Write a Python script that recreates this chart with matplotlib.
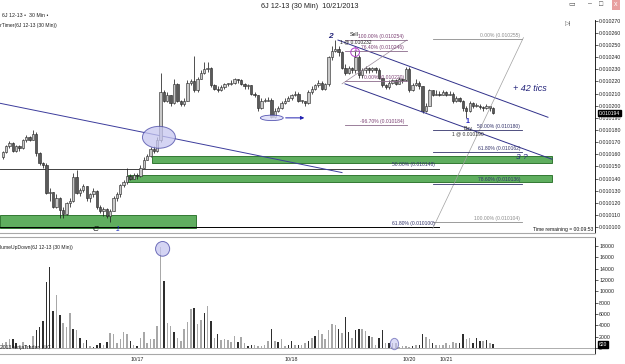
import matplotlib
matplotlib.use("Agg")
import matplotlib.pyplot as plt
import matplotlib.transforms as mtransforms
from matplotlib.patches import Rectangle, Ellipse
import numpy as np

plt.rcParams['font.family'] = ['Liberation Sans', 'DejaVu Sans']

# ---------------- data (prices in units of 0.000001) ----------------
first_open = 10158
close = [10162, 10167, 10169, 10163, 10167, 10165, 10172, 10174, 10172, 10177,
         10161, 10153, 10151, 10128, 10129, 10117, 10124, 10114, 10111, 10120,
         10122, 10141, 10128, 10131, 10134, 10124, 10127, 10130, 10117, 10113,
         10115, 10109, 10113, 10124, 10127, 10135, 10137, 10142, 10140, 10143,
         10142, 10149, 10155, 10159, 10164, 10163, 10172, 10211, 10204, 10209,
         10202, 10218, 10204, 10201, 10204, 10219, 10220, 10213, 10222, 10227,
         10230, 10231, 10217, 10214, 10213, 10215, 10218, 10218, 10219, 10222,
         10221, 10218, 10216, 10217, 10210, 10209, 10198, 10204, 10204, 10205,
         10191, 10196, 10198, 10202, 10204, 10206, 10209, 10210, 10204, 10204,
         10202, 10211, 10214, 10217, 10219, 10214, 10218, 10240, 10245, 10247,
         10244, 10231, 10227, 10231, 10229, 10240, 10225, 10229, 10231, 10229,
         10231, 10229, 10223, 10217, 10215, 10219, 10221, 10218, 10222, 10221,
         10230, 10213, 10217, 10219, 10216, 10196, 10200, 10213, 10209, 10210,
         10209, 10211, 10209, 10210, 10204, 10206, 10204, 10198, 10196, 10202,
         10200, 10200, 10199, 10198, 10200, 10198, 10194]
high = [10163, 10168, 10171, 10170, 10168, 10168, 10173, 10176, 10175, 10180,
        10178, 10162, 10154, 10153, 10132, 10129, 10127, 10125, 10117, 10121,
        10124, 10145, 10147, 10132, 10136, 10134, 10128, 10132, 10131, 10118,
        10117, 10116, 10115, 10126, 10129, 10136, 10139, 10149, 10144, 10145,
        10145, 10151, 10158, 10160, 10166, 10167, 10174, 10227, 10213, 10211,
        10209, 10222, 10219, 10205, 10206, 10221, 10222, 10241, 10224, 10229,
        10236, 10236, 10232, 10218, 10216, 10217, 10219, 10219, 10221, 10223,
        10222, 10222, 10219, 10218, 10217, 10211, 10209, 10206, 10206, 10207,
        10206, 10198, 10200, 10204, 10206, 10208, 10210, 10212, 10211, 10205,
        10204, 10213, 10216, 10218, 10221, 10220, 10219, 10241, 10249, 10254,
        10249, 10245, 10234, 10233, 10232, 10245, 10242, 10231, 10233, 10232,
        10232, 10232, 10231, 10223, 10218, 10221, 10222, 10222, 10224, 10223,
        10232, 10232, 10219, 10222, 10220, 10216, 10202, 10214, 10213, 10213,
        10212, 10213, 10212, 10212, 10211, 10208, 10207, 10205, 10200, 10204,
        10203, 10202, 10201, 10200, 10201, 10200, 10199]
low = [10156, 10161, 10165, 10162, 10162, 10163, 10164, 10170, 10171, 10172,
       10159, 10151, 10149, 10127, 10122, 10116, 10116, 10108, 10108, 10110,
       10117, 10121, 10127, 10126, 10129, 10122, 10121, 10125, 10115, 10112,
       10109, 10108, 10104, 10113, 10122, 10125, 10133, 10136, 10139, 10140,
       10140, 10141, 10149, 10155, 10158, 10161, 10162, 10170, 10203, 10203,
       10200, 10201, 10203, 10200, 10200, 10204, 10217, 10211, 10211, 10222,
       10226, 10228, 10215, 10213, 10211, 10212, 10214, 10216, 10217, 10218,
       10219, 10217, 10214, 10214, 10209, 10207, 10196, 10197, 10203, 10204,
       10190, 10190, 10195, 10197, 10201, 10204, 10205, 10208, 10203, 10202,
       10200, 10201, 10210, 10213, 10215, 10213, 10213, 10216, 10238, 10244,
       10241, 10230, 10225, 10226, 10227, 10227, 10223, 10223, 10227, 10227,
       10228, 10227, 10222, 10215, 10214, 10214, 10218, 10217, 10218, 10219,
       10220, 10211, 10212, 10216, 10214, 10194, 10195, 10200, 10208, 10209,
       10208, 10209, 10208, 10209, 10202, 10203, 10203, 10196, 10190, 10195,
       10198, 10199, 10197, 10196, 10197, 10196, 10193]
volume = [900, 1100, 1600, 1500, 800, 600, 1000, 600, 600, 2100,
          3100, 3700, 4700, 11600, 14300, 6500, 9300, 5800, 4400, 3700,
          6100, 3400, 3200, 1800, 900, 1400, 400, 200, 500, 800,
          500, 1100, 2600, 2400, 800, 1500, 2800, 2500, 1200, 600,
          300, 1800, 2900, 900, 1500, 1600, 3800, 17800, 11800, 4400,
          3800, 2800, 1800, 1200, 3400, 4500, 6800, 7100, 4300, 5000,
          6200, 7400, 4700, 1800, 2400, 1400, 1500, 1400, 1100, 2200,
          1100, 1900, 900, 400, 500, 600, 300, 300, 500, 1200,
          3400, 1200, 1000, 1500, 300, 600, 1200, 600, 600, 600,
          900, 1200, 1800, 2100, 3100, 2400, 1600, 3200, 4300, 4100,
          3400, 2700, 5500, 2800, 1800, 3200, 3400, 3400, 3000, 2200,
          1900, 600, 1800, 3100, 900, 800, 900, 900, 200, 300,
          400, 200, 300, 500, 600, 2500, 1900, 1500, 900, 600,
          500, 600, 800, 600, 1100, 800, 800, 2500, 1600, 1800,
          800, 1800, 1200, 1200, 1400, 900, 620]
vol_dir = ("uuudduuudu" "dddddduduu" "ududududdd" "uduuuuuudu" "duuuuuuudu"
           "uduuuuuduu" "dududuuuuu" "duudduuuuu" "duduuddudu" "ududuuuuuu"
           "duddudduud" "uudduduuuu" "uududduudu" "uuuuuudduu" "dddudud")
date_labels = ["10/17", "10/18", "10/20", "10/21"]
date_bars = [40, 86, 121, 132]
price_ticks = list(range(10100, 10271, 10))
vol_ticks = list(range(0, 18001, 2000))
last_price = 10194
last_volume = 620

# demand zones: (bar start, bar end, bottom, top)
zones = [(44.5, 163.5, 10153, 10158.5),
         (37.3, 163.5, 10137, 10143),
         (-0.8, 57.5, 10099.5, 10110)]
# right fibonacci set
fib_r_levels = [("0.00% (0.010255)", 10255, '#8c8c8c'),
                ("50.00% (0.010180)", 10180, '#33336b'),
                ("61.80% (0.010162)", 10162, '#33336b'),
                ("78.60% (0.010136)", 10136, '#33336b'),
                ("100.00% (0.010104)", 10104, '#8c8c8c')]
fib_r_span = (128, 155)
# left fibonacci set
fib_l_levels = [("100.00% (0.010254)", 10254),
                ("76.40% (0.010246)", 10245),
                ("0.00% (0.010220)", 10220),
                ("-96.70% (0.010184)", 10184)]
fib_l_span = (102, 120.3)
# long horizontal fib levels
fib_h_levels = [("50.00% (0.010148)", 10148, '#404040'),
                ("61.80% (0.010100)", 10100, '#000000')]
fib_h_span = (-0.8, 130)

S = 1e-6
W, H = 625, 364

fig = plt.figure(figsize=(6.25, 3.64), dpi=100)
fig.patch.set_facecolor('white')
ax = fig.add_axes([0, 1 - 233 / H, 595 / W, (233 - 20) / H])
axv = fig.add_axes([0, 1 - 354 / H, 595 / W, (354 - 237) / H], sharex=ax)

c = np.array(close) * S
o = np.r_[first_open, close[:-1]] * S
h = np.maximum(np.array(high) * S, np.maximum(o, c))
l = np.minimum(np.array(low) * S, np.minimum(o, c))
x = np.arange(len(c))
up = c >= o

# zones
for x0, x1, b, t in zones:
    ax.add_patch(Rectangle((x0, b * S), x1 - x0, (t - b) * S, facecolor='#5fae5f',
                           edgecolor='#1f6a1f', lw=0.6, zorder=2))

# long trend line
ax.plot([-0.8, 101], [10202 * S, 10145 * S], color='#3c3c9c', lw=0.7, zorder=2.5)

# horizontal long fib levels
for txt, p, col in fib_h_levels:
    ax.plot(fib_h_span, [p * S, p * S], color=col, lw=0.7, zorder=2.2)
    ax.text(fib_h_span[1] - 1.3, p * S + 1.2 * S, txt, fontsize=3.6, color='#33336b',
            ha='right', va='bottom', zorder=6)

# candles
ax.vlines(x, l, h, color='#202020', lw=0.55, zorder=3)
ax.bar(x, np.maximum(np.abs(c - o), 0.4 * S), bottom=np.minimum(o, c), width=0.7,
       color=np.where(up, '#c9c9c9', '#5a5a5a'), edgecolor='#202020', linewidth=0.4, zorder=4)

# big ellipse
ax.add_patch(Ellipse((46.5, 10174 * S), 9.8, 18 * S, facecolor='#c6c6f0', alpha=0.75,
                     edgecolor='#4545a5', lw=0.7, zorder=5))
# small ellipse + arrow
ax.add_patch(Ellipse((80.1, 10190 * S), 6.8, 4.5 * S, facecolor='#dcdcf8', alpha=0.8,
                     edgecolor='#3030a0', lw=0.6, zorder=5))
ax.annotate('', xy=(90.6, 10190 * S), xytext=(83.4, 10190 * S),
            arrowprops=dict(arrowstyle='-|>', color='#2020b0', lw=0.7, mutation_scale=5), zorder=6)

# channel
ax.plot([99.8, 162.3], [10254 * S, 10190.5 * S], color='#30308a', lw=0.7, zorder=5)
ax.plot([101.9, 163.5], [10218 * S, 10156 * S], color='#30308a', lw=0.7, zorder=5)

# left fib
ax.plot([101, fib_l_span[1]], [10218 * S, 10254 * S], color='#9a8a9a', lw=0.5, zorder=5)
for txt, p in fib_l_levels:
    ax.plot(fib_l_span, [p * S, p * S], color='#8a6a8a', lw=0.6, zorder=5)
    ax.text(fib_l_span[1] - 0.8, p * S + 0.9 * S, txt, fontsize=3.6, color='#7b3f73',
            ha='right', va='bottom', zorder=6)
ax.text(104.5, 10256.5 * S, "Sell", fontsize=3.8, color='#222222', ha='center', va='bottom', zorder=7)
ax.text(105, 10250.5 * S, "1 @ 0.010232", fontsize=3.6, color='#222222', ha='center', va='bottom', zorder=7)
ax.add_patch(Ellipse((104.9, 10244 * S), 2.6, 7 * S, facecolor='none', edgecolor='#b040c8', lw=0.7, zorder=7))
ax.text(104.9, 10246 * S, "1", fontsize=4.5, color='#b040c8', ha='center', va='center', zorder=7, weight='bold')

# right fib
ax.plot([fib_r_span[0], fib_r_span[1]], [10099 * S, 10256 * S], color='#a0a0a0', lw=0.5, zorder=5)
for txt, p, col in fib_r_levels:
    ax.plot([fib_r_span[0], fib_r_span[1] - 0.5], [p * S, p * S], color=col, lw=0.6, zorder=5)
    ax.text(fib_r_span[1] - 1.0, p * S + 0.9 * S, txt, fontsize=3.6, color=col,
            ha='right', va='bottom', zorder=6)

# annotations
ax.text(97.6, 10257 * S, "2", fontsize=6, color='#23237a', style='italic', weight='bold',
        ha='center', va='center', zorder=7)
ax.text(157, 10214 * S, "+ 42 tics", fontsize=6.5, color='#23237a', style='italic',
        ha='center', va='center', zorder=7)
ax.text(138.3, 10187 * S, "1", fontsize=5, color='#2020c0', weight='bold', ha='center', va='center', zorder=7)
ax.text(138.5, 10181.5 * S, "Buy", fontsize=3.8, color='#333333', ha='center', va='center', zorder=7)
ax.text(138.5, 10176.5 * S, "1 @ 0.010190", fontsize=3.6, color='#333333', ha='center', va='center', zorder=7)
ax.text(154.5, 10157 * S, "3 ?", fontsize=6, color='#23237a', style='italic', ha='center', va='center', zorder=7)
ax.text(27.5, 10098.5 * S, "C", fontsize=6, color='#111111', style='italic', ha='center', va='center', zorder=7)
ax.text(34.3, 10098.5 * S, "1", fontsize=5, color='#2030c0', style='italic', ha='center', va='center', zorder=7)

ax.text(0.997, 0.006, "Time remaining = 00:09:53", transform=ax.transAxes, fontsize=3.6,
        ha='right', va='bottom', color='#111111')
ax.text(0.0, 0.985, "rTimer(6J 12-13 (30 Min))", transform=ax.transAxes, fontsize=3.6,
        ha='left', va='top', color='#222222')

# price axis
ax.set_xlim(-0.8, 176.3)
ax.set_ylim(10095.3 * S, 10270.5 * S)
ax.yaxis.tick_right()
ax.set_yticks([p * S for p in price_ticks])
ax.set_yticklabels([f"{p * S:.6f}" for p in price_ticks])
ax.tick_params(axis='y', labelsize=3.8, length=2, width=0.5, pad=1, colors='#222222')
ax.tick_params(axis='x', bottom=False, labelbottom=False)
for s in ('top', 'left'):
    ax.spines[s].set_visible(False)
ax.spines['bottom'].set_color('#a8a8a8')
ax.spines['bottom'].set_linewidth(0.8)
ax.spines['right'].set_linewidth(0.6)
tr = mtransforms.blended_transform_factory(ax.transAxes, ax.transData)
ax.text(1.006, last_price * S, f"{last_price * S:.6f}", transform=tr, fontsize=3.6, color='white',
        ha='left', va='center', bbox=dict(boxstyle='square,pad=0.15', fc='black', ec='black'), zorder=10,
        clip_on=False)

# volume
vcol = ['#a8a8a8' if d == 'u' else '#2e2e2e' for d in vol_dir]
axv.bar(x, volume, width=0.45, color=vcol, zorder=3)
axv.axhline(0, color='#a0a0a0', lw=0.6, zorder=2)
axv.add_patch(Ellipse((47.6, 17500), 4.2, 2600, facecolor='#c6c6f0', alpha=0.75,
                      edgecolor='#4545a5', lw=0.7, zorder=5))
axv.add_patch(Ellipse((116.6, 700), 2.5, 2000, facecolor='#c6c6f0', alpha=0.6,
                      edgecolor='#4545a5', lw=0.7, zorder=5))
axv.set_ylim(-1060, 19590)
axv.yaxis.tick_right()
axv.set_yticks(vol_ticks)
axv.set_yticklabels([str(v) for v in vol_ticks])
axv.tick_params(axis='y', labelsize=3.8, length=2, width=0.5, pad=1, colors='#222222')
axv.set_xticks(date_bars)
axv.set_xticklabels(date_labels)
axv.tick_params(axis='x', labelsize=3.8, length=0, pad=2, colors='#222222')
axv.spines['left'].set_visible(False)
for s in ('top', 'bottom'):
    axv.spines[s].set_color('#a8a8a8')
    axv.spines[s].set_linewidth(0.8)
axv.spines['right'].set_linewidth(0.6)
trv = mtransforms.blended_transform_factory(axv.transAxes, axv.transData)
axv.text(1.006, last_volume, str(last_volume), transform=trv, fontsize=3.6, color='white',
         ha='left', va='center', bbox=dict(boxstyle='square,pad=0.15', fc='black', ec='black'), zorder=10,
         clip_on=False)
axv.text(0.0, 0.93, "lumeUpDown(6J 12-13 (30 Min))", transform=axv.transAxes, fontsize=3.6,
         ha='left', va='top', color='#222222')
axv.text(0.0, 0.035, "2013 NinjaTrader, LLC", transform=axv.transAxes, fontsize=3.6,
         ha='left', va='bottom', color='#222222')

# window chrome
fig.text(310 / W, 1 - 6 / H, "6J 12-13 (30 Min)  10/21/2013", fontsize=5.2, ha='center', va='center',
         color='#222222')
fig.text(2 / W, 1 - 15.5 / H, "6J 12-13 \u2022  30 Min \u2022", fontsize=3.8, ha='left', va='center',
         color='#222222')
fig.text(565 / W, 1 - 23.5 / H, "\u25b7|", fontsize=4.5, ha='left', va='center', color='#555555')
fig.text(590 / W, 1 - 4 / H, "\u2013", fontsize=5, ha='center', va='center', color='#444444')
fig.text(601 / W, 1 - 4 / H, "\u25a1", fontsize=5, ha='center', va='center', color='#444444')
fig.text(616 / W, 1 - 4 / H, "x", fontsize=5, ha='center', va='center', color='white',
         bbox=dict(boxstyle='square,pad=0.3', fc='#e8a0a0', ec='none'))
fig.text(572 / W, 1 - 4 / H, "\u25ad", fontsize=5, ha='center', va='center', color='#555555')

fig.savefig("out.png", dpi=100)
